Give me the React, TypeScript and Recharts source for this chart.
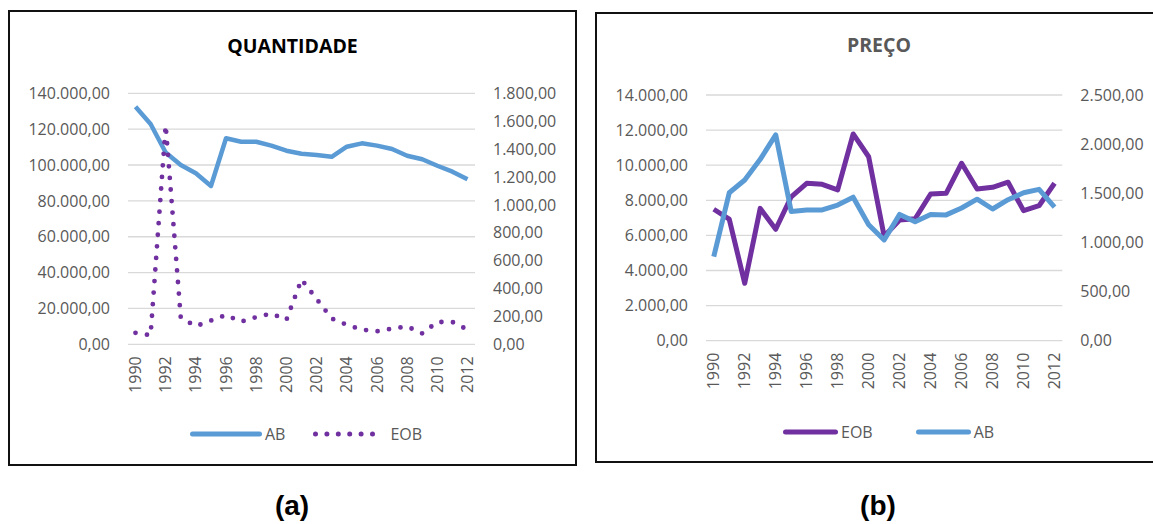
import { LineChart, Line, XAxis, YAxis, CartesianGrid, Legend } from 'recharts';

const years = [
  '1990', '1991', '1992', '1993', '1994', '1995', '1996', '1997', '1998', '1999', '2000', '2001',
  '2002', '2003', '2004', '2005', '2006', '2007', '2008', '2009', '2010', '2011', '2012',
];

// (a) QUANTIDADE
const abQty = [
  132500, 122900, 107000, 100000, 95400, 88300, 114900, 113000, 113000, 110800, 108000, 106300,
  105600, 104600, 110200, 112100, 110800, 108900, 105200, 103200, 99600, 96300, 92000,
];
const eobQty = [
  82, 65, 1570, 190, 130, 170, 210, 162, 195, 220, 175, 465, 325, 185, 140, 105, 93, 112, 128, 78,
  160, 160, 105,
];
const qtyLeftTicks = [0, 20000, 40000, 60000, 80000, 100000, 120000, 140000];
const qtyRightTicks = [0, 200, 400, 600, 800, 1000, 1200, 1400, 1600, 1800];

// (b) PREÇO
const eobPrice = [
  7490, 6930, 3270, 7540, 6350, 8200, 8970, 8910, 8590, 11780, 10480, 5950, 6880, 6950, 8360, 8400,
  10110, 8640, 8740, 9030, 7410, 7690, 8970,
];
const abPrice = [
  855, 1505, 1635, 1845, 2095, 1315, 1330, 1330, 1380, 1460, 1180, 1025, 1285, 1210, 1285, 1280,
  1350, 1440, 1340, 1435, 1505, 1540, 1360,
];
const priceLeftTicks = [0, 2000, 4000, 6000, 8000, 10000, 12000, 14000];
const priceRightTicks = [0, 500, 1000, 1500, 2000, 2500];

const BLUE = '#5B9BD5';
const PURPLE = '#7030A0';
const TEXT = '#595959';
const GRID = '#D9D9D9';
const FONT = '"Open Sans", "Noto Sans", sans-serif';

const qtyData = years.map((year, i) => ({ year, ab: abQty[i], eob: eobQty[i] }));
const priceData = years.map((year, i) => ({ year, eob: eobPrice[i], ab: abPrice[i] }));

const fmt = (v: number) =>
  String(Math.round(v)).replace(/\B(?=(\d{3})+(?!\d))/g, '.') + ',00';

const tickStyle = { fontSize: 16, fill: TEXT, fontFamily: FONT };

function YearTick(props: any) {
  const { x, y, payload } = props;
  return (
    <text
      x={x}
      y={y}
      transform={`rotate(-90, ${x}, ${y})`}
      textAnchor="end"
      dy="0.35em"
      fill={TEXT}
      fontSize={16}
      fontFamily={FONT}
    >
      {payload.value}
    </text>
  );
}

type LegendItem = { key: string; width: number; dotted?: boolean; textGap: number; after: number };

function makeLegend(items: LegendItem[]) {
  return (props: any) => {
    const payload = props.payload || [];
    return (
      <div style={{ display: 'flex', alignItems: 'center', height: 20, fontFamily: FONT, fontSize: 16, color: TEXT }}>
        {items.map((item) => {
          const entry = payload.find((p: any) => p.dataKey === item.key);
          if (!entry) return null;
          return (
            <div key={item.key} style={{ display: 'flex', alignItems: 'center', marginRight: item.after }}>
              <svg width={item.width} height={10} style={{ display: 'block' }}>
                <line
                  x1={2.5}
                  x2={item.width - 2.5}
                  y1={5}
                  y2={5}
                  stroke={entry.color}
                  strokeWidth={5}
                  strokeLinecap="round"
                  strokeDasharray={item.dotted ? '0 11.4' : undefined}
                />
              </svg>
              <span style={{ marginLeft: item.textGap, lineHeight: '20px' }}>{entry.value}</span>
            </div>
          );
        })}
      </div>
    );
  };
}

const legendA = makeLegend([
  { key: 'ab', width: 72, textGap: 3, after: 28 },
  { key: 'eob', width: 62, dotted: true, textGap: 15, after: 0 },
]);
const legendB = makeLegend([
  { key: 'eob', width: 55, textGap: 3, after: 43 },
  { key: 'ab', width: 55, textGap: 3, after: 0 },
]);

const panelLabel = {
  position: 'absolute' as const,
  width: 100,
  top: 490,
  lineHeight: '32px',
  textAlign: 'center' as const,
  fontFamily: '"Liberation Sans", Arial, sans-serif',
  fontWeight: 700,
  fontSize: 28,
  color: '#000',
};

export default function App() {
  return (
    <div
      style={{
        position: 'absolute',
        left: 0,
        top: 0,
        width: 1153,
        height: 524,
        overflow: 'hidden',
        background: '#fff',
        fontFamily: FONT,
      }}
    >
      {/* frames */}
      <div
        style={{
          position: 'absolute',
          left: 8,
          top: 10,
          width: 569,
          height: 456,
          boxSizing: 'border-box',
          border: '2px solid #111',
        }}
      />
      <div
        style={{
          position: 'absolute',
          left: 595,
          top: 12,
          width: 600,
          height: 451,
          boxSizing: 'border-box',
          border: '2px solid #111',
        }}
      />

      {/* titles */}
      <div
        style={{
          position: 'absolute',
          left: 8,
          width: 569,
          top: 34,
          lineHeight: '24px',
          textAlign: 'center',
          fontSize: 19.5,
          fontWeight: 700,
          color: '#000',
        }}
      >
        QUANTIDADE
      </div>
      <div
        style={{
          position: 'absolute',
          left: 779,
          width: 200,
          top: 33,
          lineHeight: '24px',
          textAlign: 'center',
          fontSize: 19.5,
          fontWeight: 700,
          color: TEXT,
        }}
      >
        PREÇO
      </div>

      {/* (a) */}
      <div style={{ position: 'absolute', left: 8, top: 10 }}>
        <LineChart width={569} height={456} data={qtyData} margin={{ top: 83.3, right: 2, bottom: 61.7, left: 20 }}>
          <CartesianGrid vertical={false} stroke={GRID} strokeWidth={1.3} yAxisId="left" />
          <XAxis
            dataKey="year"
            interval={1}
            axisLine={false}
            tickLine={false}
            tickSize={0}
            tickMargin={12}
            height={60}
            padding={{ left: 7.5, right: 7.5 }}
            tick={<YearTick />}
          />
          <YAxis
            yAxisId="left"
            orientation="left"
            domain={[0, 140000]}
            ticks={qtyLeftTicks}
            tickFormatter={fmt}
            axisLine={false}
            tickLine={false}
            tickSize={0}
            tickMargin={18}
            width={100}
            tick={tickStyle}
          />
          <YAxis
            yAxisId="right"
            orientation="right"
            domain={[0, 1800]}
            ticks={qtyRightTicks}
            tickFormatter={fmt}
            axisLine={false}
            tickLine={false}
            tickSize={0}
            tickMargin={18}
            width={100}
            tick={tickStyle}
          />
          <Legend
            layout="horizontal"
            verticalAlign="middle"
            align="center"
            content={legendA}
            wrapperStyle={{ left: 182, top: 414, bottom: 'auto', width: 'auto', height: 20 }}
          />
          <Line
            yAxisId="left"
            type="linear"
            dataKey="ab"
            name="AB"
            stroke={BLUE}
            strokeWidth={4.5}
            strokeLinejoin="round"
            dot={false}
            activeDot={false}
            isAnimationActive={false}
          />
          <Line
            yAxisId="right"
            type="linear"
            dataKey="eob"
            name="EOB"
            stroke={PURPLE}
            strokeWidth={4.8}
            strokeLinecap="round"
            strokeDasharray="0 11.6"
            dot={false}
            activeDot={false}
            isAnimationActive={false}
          />
        </LineChart>
      </div>

      {/* (b) */}
      <div style={{ position: 'absolute', left: 595, top: 12 }}>
        <LineChart width={558} height={450} data={priceData} margin={{ top: 83, right: 10.7, bottom: 61.3, left: 11 }}>
          <CartesianGrid vertical={false} stroke={GRID} strokeWidth={1.3} yAxisId="left" />
          <XAxis
            dataKey="year"
            interval={1}
            axisLine={false}
            tickLine={false}
            tickSize={0}
            tickMargin={12}
            height={60}
            padding={{ left: 7.75, right: 7.75 }}
            tick={<YearTick />}
          />
          <YAxis
            yAxisId="left"
            orientation="left"
            domain={[0, 14000]}
            ticks={priceLeftTicks}
            tickFormatter={fmt}
            axisLine={false}
            tickLine={false}
            tickSize={0}
            tickMargin={18}
            width={100}
            tick={tickStyle}
          />
          <YAxis
            yAxisId="right"
            orientation="right"
            domain={[0, 2500]}
            ticks={priceRightTicks}
            tickFormatter={fmt}
            axisLine={false}
            tickLine={false}
            tickSize={0}
            tickMargin={18}
            width={80}
            tick={tickStyle}
          />
          <Legend
            layout="horizontal"
            verticalAlign="middle"
            align="center"
            content={legendB}
            wrapperStyle={{ left: 188, top: 410, bottom: 'auto', width: 'auto', height: 20 }}
          />
          <Line
            yAxisId="left"
            type="linear"
            dataKey="eob"
            name="EOB"
            stroke={PURPLE}
            strokeWidth={5}
            strokeLinejoin="round"
            dot={false}
            activeDot={false}
            isAnimationActive={false}
          />
          <Line
            yAxisId="right"
            type="linear"
            dataKey="ab"
            name="AB"
            stroke={BLUE}
            strokeWidth={5}
            strokeLinejoin="round"
            dot={false}
            activeDot={false}
            isAnimationActive={false}
          />
        </LineChart>
      </div>

      {/* panel labels */}
      <div style={{ ...panelLabel, left: 242 }}>(a)</div>
      <div style={{ ...panelLabel, left: 828 }}>(b)</div>
    </div>
  );
}
